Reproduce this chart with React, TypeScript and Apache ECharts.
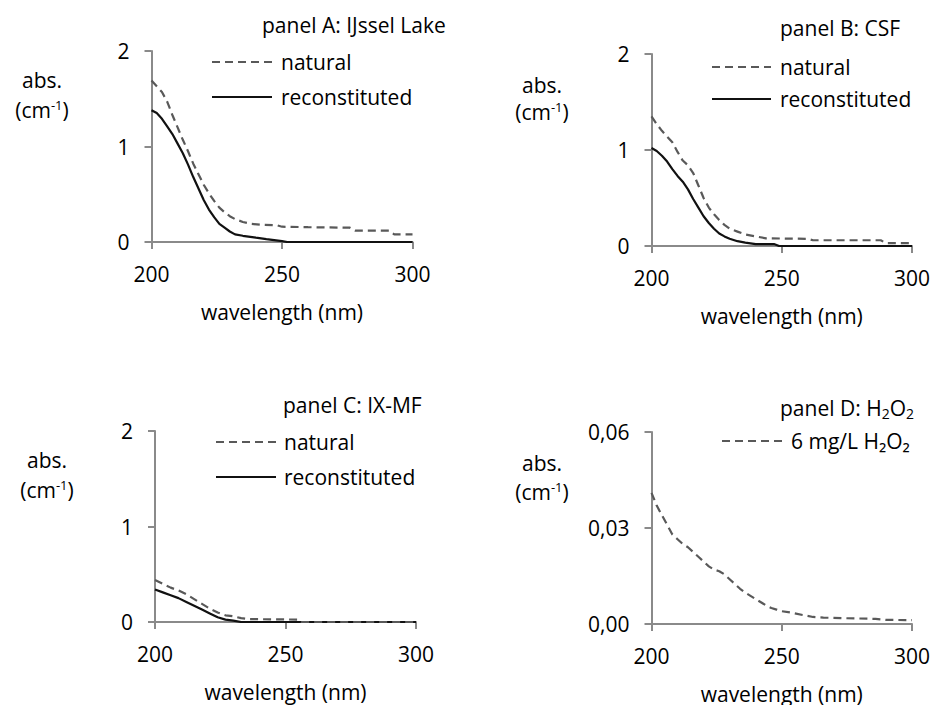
import React, { useEffect, useRef } from "react";
import * as echarts from "echarts";

// ---- data ----
const wlA_nat = [200, 202, 204, 206, 208, 210, 212, 214, 216, 218, 220, 222, 224, 226, 228, 230, 232, 235, 238, 242, 248, 250, 260, 276, 278, 291, 293, 300];
const absA_nat = [1.69, 1.63, 1.57, 1.47, 1.33, 1.2, 1.07, 0.95, 0.82, 0.71, 0.6, 0.51, 0.43, 0.36, 0.31, 0.27, 0.24, 0.21, 0.19, 0.18, 0.175, 0.16, 0.155, 0.15, 0.12, 0.12, 0.08, 0.08];
const wlA_rec = [200, 202, 204, 206, 208, 210, 212, 214, 216, 218, 220, 222, 224, 226, 228, 230, 232, 235, 240, 244, 250, 252, 300];
const absA_rec = [1.38, 1.35, 1.29, 1.21, 1.13, 1.03, 0.93, 0.81, 0.68, 0.56, 0.44, 0.34, 0.26, 0.19, 0.15, 0.11, 0.08, 0.065, 0.045, 0.03, 0.01, 0, 0];

const wlB_nat = [200, 202, 204, 206, 208, 210, 212, 214, 216, 218, 220, 222, 224, 226, 228, 230, 233, 236, 240, 244, 260, 262, 288, 290, 300];
const absB_nat = [1.35, 1.27, 1.2, 1.14, 1.08, 0.98, 0.89, 0.84, 0.76, 0.63, 0.5, 0.4, 0.33, 0.27, 0.22, 0.18, 0.15, 0.12, 0.1, 0.08, 0.075, 0.06, 0.06, 0.03, 0.03];
const wlB_rec = [200, 202, 204, 206, 208, 210, 212, 214, 216, 218, 220, 222, 224, 226, 228, 230, 233, 236, 240, 247, 249, 300];
const absB_rec = [1.02, 0.99, 0.94, 0.88, 0.8, 0.73, 0.67, 0.59, 0.49, 0.4, 0.31, 0.24, 0.18, 0.13, 0.1, 0.075, 0.05, 0.035, 0.02, 0.02, 0, 0];

const wlC_nat = [200, 203, 206, 209, 212, 215, 218, 221, 224, 227, 230, 233, 236, 255, 256, 300];
const absC_nat = [0.44, 0.4, 0.36, 0.33, 0.29, 0.24, 0.19, 0.14, 0.1, 0.07, 0.06, 0.04, 0.03, 0.025, 0, 0];
const wlC_rec = [200, 203, 206, 209, 212, 215, 218, 221, 224, 227, 230, 233, 300];
const absC_rec = [0.34, 0.31, 0.28, 0.25, 0.21, 0.17, 0.13, 0.09, 0.05, 0.025, 0.015, 0, 0];

const wlD = [200, 202, 204, 206, 208, 210, 212, 214, 216, 218, 220, 222, 224, 226, 228, 230, 232, 234, 236, 238, 240, 242, 244, 246, 248, 250, 254, 258, 262, 266, 275, 286, 290, 300];
const absD = [0.041, 0.037, 0.034, 0.031, 0.028, 0.0265, 0.025, 0.024, 0.0225, 0.021, 0.0195, 0.018, 0.017, 0.0165, 0.0155, 0.014, 0.0125, 0.011, 0.0098, 0.0088, 0.0078, 0.0068, 0.0058, 0.005, 0.0045, 0.004, 0.0035, 0.0028, 0.0022, 0.002, 0.0018, 0.0016, 0.0013, 0.0012];

const titles = ["panel A: IJssel Lake", "panel B: CSF", "panel C: IX-MF", "panel D: H{sub|2}O{sub|2}"];
const legendNat = "natural";
const legendRec = "reconstituted";
const legendH2O2 = "6 mg/L H₂O₂";

const FONT = "'Open Sans', 'Noto Sans', sans-serif";
const FS = 21;
const AXIS_GRAY = "#8a8a8a";
const NAT_COLOR = "#595959";
const REC_COLOR = "#111111";
const DASH = [8, 5];

const zip = (xs: number[], ys: number[]) => xs.map((x, i) => [x, ys[i]]);

export default function App() {
  const ref = useRef<HTMLDivElement>(null);
  useEffect(() => {
    const chart = echarts.init(ref.current!, null, { renderer: "svg" });

    const grids = [
      { left: 151.5, top: 51, width: 261, height: 191 },
      { left: 651.5, top: 54, width: 260.5, height: 192 },
      { left: 155, top: 431, width: 261, height: 191 },
      { left: 651.5, top: 432, width: 260.5, height: 192 },
    ];

    const xAxes = grids.map((_, i) => ({
      type: "value",
      gridIndex: i,
      min: 200,
      max: 300,
      interval: 50,
      name: "wavelength (nm)",
      nameLocation: "middle",
      nameGap: 59,
      nameTextStyle: { fontFamily: FONT, fontSize: FS, color: "#000" },
      axisLine: { show: true, lineStyle: { color: AXIS_GRAY, width: 2 } },
      axisTick: { show: true, length: 7, lineStyle: { color: AXIS_GRAY, width: 2 } },
      axisLabel: { margin: 21, fontFamily: FONT, fontSize: FS, color: "#000" },
      splitLine: { show: false },
    }));

    const yAxes = grids.map((_, i) => {
      const isD = i === 3;
      return {
        type: "value",
        gridIndex: i,
        min: 0,
        max: isD ? 0.06 : 2,
        interval: isD ? 0.03 : 1,
        axisLine: { show: true, lineStyle: { color: AXIS_GRAY, width: 2 } },
        axisTick: { show: true, length: 7, lineStyle: { color: AXIS_GRAY, width: 2 } },
        axisLabel: {
          margin: 22,
          fontFamily: FONT,
          fontSize: FS,
          color: "#000",
          formatter: isD ? (v: number) => v.toFixed(2).replace(".", ",") : (v: number) => String(v),
        },
        splitLine: { show: false },
      };
    });

    const lineSeries = (name: string, idx: number, data: number[][], dashed: boolean) => ({
      name,
      type: "line",
      xAxisIndex: idx,
      yAxisIndex: idx,
      data,
      showSymbol: false,
      symbol: "none",
      lineStyle: { color: dashed ? NAT_COLOR : REC_COLOR, width: 2.2, type: dashed ? DASH : "solid" },
      z: dashed ? 3 : 2,
    });

    const series = [
      lineSeries(legendNat, 0, zip(wlA_nat, absA_nat), true),
      lineSeries(legendRec, 0, zip(wlA_rec, absA_rec), false),
      lineSeries(legendNat, 1, zip(wlB_nat, absB_nat), true),
      lineSeries(legendRec, 1, zip(wlB_rec, absB_rec), false),
      lineSeries(legendNat, 2, zip(wlC_nat, absC_nat), true),
      lineSeries(legendRec, 2, zip(wlC_rec, absC_rec), false),
      lineSeries(legendH2O2, 3, zip(wlD, absD), true),
    ];

    const txt = (x: number, y: number, text: string, align = "left", rich?: any) => ({
      type: "text",
      x,
      y,
      style: {
        text,
        fontFamily: FONT,
        fontSize: FS,
        fill: "#000",
        align,
        verticalAlign: "middle",
        rich,
      },
    });
    const seg = (x1: number, x2: number, y: number, dashed: boolean) => ({
      type: "line",
      shape: { x1, y1: y, x2, y2: y },
      style: { stroke: dashed ? NAT_COLOR : REC_COLOR, lineWidth: 2.2, lineDash: dashed ? DASH : null },
    });

    const sub = { fontFamily: FONT, fontSize: 14, fill: "#000", padding: [11, 0, 0, 0] };
    const sup = { fontFamily: FONT, fontSize: 13, fill: "#000", padding: [0, 0, 11, 0] };
    const main = { fontFamily: FONT, fontSize: FS, fill: "#000" };

    const yLabel = (cx: number, y1: number, y2: number) => [
      txt(cx, y1, "abs.", "center"),
      txt(cx, y2, "({m|cm}{sup|-1}{m|)}", "center", { sup, m: main }),
    ];

    const graphic = [
      // titles
      txt(262, 25, titles[0]),
      txt(780, 28, titles[1]),
      txt(283, 405, titles[2]),
      txt(780, 408, titles[3], "left", { sub, m: main }),
      // legends
      seg(212, 272, 62, true), txt(281, 62, legendNat),
      seg(212, 272, 97, false), txt(281, 97, legendRec),
      seg(712, 771, 67, true), txt(780, 67, legendNat),
      seg(712, 771, 99, false), txt(780, 99, legendRec),
      seg(216, 276, 442, true), txt(284, 442, legendNat),
      seg(216, 276, 477, false), txt(284, 477, legendRec),
      seg(722, 782, 441, true), txt(791, 441, legendH2O2),
      // y labels
      ...yLabel(42, 80, 110),
      ...yLabel(542, 85, 112),
      ...yLabel(47, 460, 490),
      ...yLabel(542, 463, 492),
    ];

    chart.setOption({
      animation: false,
      backgroundColor: "#ffffff",
      grid: grids,
      xAxis: xAxes,
      yAxis: yAxes,
      series,
      graphic,
    });
    return () => chart.dispose();
  }, []);

  return (
    <div
      ref={ref}
      style={{ position: "fixed", left: 0, top: 0, width: 934, height: 705, background: "#fff" }}
    />
  );
}
